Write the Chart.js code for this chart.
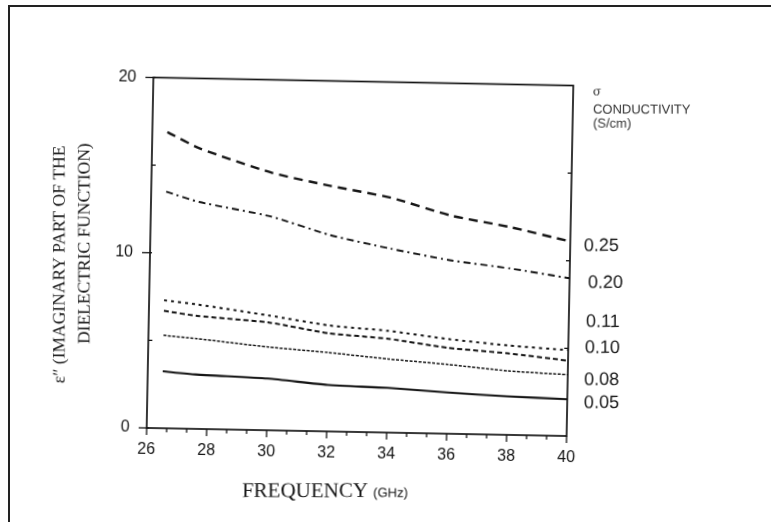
<!DOCTYPE html>
<html>
<head>
<meta charset="utf-8">
<script src="https://cdn.jsdelivr.net/npm/chart.js@4.4.1/dist/chart.umd.min.js"></script>
<style>
  html, body { margin: 0; padding: 0; background: #fff; }
  #wrap { position: relative; width: 771px; height: 522px; overflow: hidden; }
  #frame { position: absolute; left: 8px; top: 5px; right: -10px; bottom: -10px;
           border-left: 2px solid #222; border-top: 2px solid #222; }
  /* the scanned plot is tilted a little clockwise */
  #chart { position: absolute; left: 0; top: 0; transform: rotate(1.1deg);
           transform-origin: 359.5px 256.5px; }
</style>
</head>
<body>
<div id="wrap">
  <div id="frame"></div>
  <canvas id="chart" width="771" height="522"></canvas>
</div>
<script>
// frequency (GHz) where the curves were read
const freq = [26.5, 27.6, 30, 32, 34, 36, 38, 40];
const conductivity = ['0.25', '0.20', '0.11', '0.10', '0.08', '0.05'];
const eps025 = [16.9, 16.0, 14.7, 14.0, 13.4, 12.45, 11.85, 11.1];
const eps020 = [13.5, 12.95, 12.2, 11.2, 10.5, 9.9, 9.5, 9.0];
const eps011 = [7.3, 7.1, 6.55, 6.05, 5.8, 5.4, 5.1, 4.9];
const eps010 = [6.7, 6.45, 6.15, 5.6, 5.35, 4.9, 4.65, 4.3];
const eps008 = [5.3, 5.15, 4.75, 4.5, 4.2, 3.95, 3.65, 3.5];
const eps005 = [3.25, 3.1, 2.95, 2.65, 2.55, 2.35, 2.2, 2.1];
const xTickValues = [26, 28, 30, 32, 34, 36, 38, 40];
const yTickValues = [0, 10, 20];

const INK = '#151515';
const TILT = 1.1 * Math.PI / 180;
const PIVOT = [359.5, 256.5];

const series = [eps025, eps020, eps011, eps010, eps008, eps005];
const dashes = [[9, 6], [7, 4, 2, 4], [3, 4], [5, 3], [3, 1.5], []];
const widths = [2.4, 1.9, 2, 2, 1.5, 2.1];

const datasets = series.map((vals, i) => ({
  label: conductivity[i],
  data: vals.map((v, j) => ({ x: freq[j], y: v })),
  borderColor: INK,
  borderWidth: widths[i],
  borderDash: dashes[i],
  pointRadius: 0,
  tension: 0.2,
  fill: false
}));

// label placement in page pixels (untilted)
const condLabelPos = [[584, 246], [588, 283], [586, 322], [585, 348], [584, 380], [584, 403]];

const paperDecor = {
  id: 'paperDecor',
  afterDraw(chart) {
    const { ctx, chartArea: a, scales: { x, y } } = chart;
    ctx.save();
    ctx.strokeStyle = INK;
    ctx.lineWidth = 1.7;
    ctx.strokeRect(a.left, a.top, a.width, a.height);

    // x ticks: major every 2 GHz, two minor between
    ctx.lineWidth = 1.3;
    for (let i = 0; i <= 21; i++) {
      const px = x.getPixelForValue(26 + i * 2 / 3);
      const len = i % 3 === 0 ? 7 : 4;
      ctx.beginPath();
      ctx.moveTo(px, a.bottom);
      ctx.lineTo(px, a.bottom + len);
      ctx.stroke();
    }
    // y ticks
    [0, 5, 10, 15, 20].forEach(v => {
      const py = y.getPixelForValue(v);
      ctx.beginPath();
      if (v % 10 === 0) { ctx.moveTo(a.left - 8, py); ctx.lineTo(a.left + 2, py); }
      else { ctx.moveTo(a.left, py); ctx.lineTo(a.left + 4, py); }
      ctx.stroke();
      if (v > 0 && v < 20) {
        ctx.beginPath();
        ctx.moveTo(a.right - 4, py); ctx.lineTo(a.right, py);
        ctx.stroke();
      }
    });

    // texts in page coordinates: undo the tilt
    ctx.translate(PIVOT[0], PIVOT[1]);
    ctx.rotate(-TILT);
    ctx.translate(-PIVOT[0], -PIVOT[1]);
    ctx.fillStyle = INK;

    ctx.font = '18px "Liberation Sans", Arial, sans-serif';
    ctx.textBaseline = 'middle';
    ctx.textAlign = 'left';
    conductivity.forEach((c, i) => ctx.fillText(c, condLabelPos[i][0], condLabelPos[i][1]));

    ctx.fillStyle = '#333';
    ctx.font = '12px "DejaVu Serif", serif';
    ctx.fillText('σ', 593, 92);
    ctx.font = '13px "Liberation Sans", Arial, sans-serif';
    ctx.fillText('CONDUCTIVITY', 593, 110);
    ctx.fillText('(S/cm)', 593, 124);

    ctx.fillStyle = INK;
    ctx.textBaseline = 'alphabetic';
    ctx.font = '21px "Liberation Serif", "Times New Roman", serif';
    ctx.fillText('FREQUENCY', 242, 497);
    const w = ctx.measureText('FREQUENCY ').width;
    ctx.font = '13px "Liberation Sans", Arial, sans-serif';
    ctx.fillText('(GHz)', 242 + w, 497);

    ctx.textAlign = 'center';
    ctx.textBaseline = 'middle';
    ctx.font = '17.5px "Liberation Serif", "Times New Roman", serif';
    ctx.save();
    ctx.translate(60, 264.5);
    ctx.rotate(-Math.PI / 2);
    ctx.fillText('ε\u2033 (IMAGINARY PART OF THE', 0, 0);
    ctx.restore();
    ctx.save();
    ctx.translate(85, 243.5);
    ctx.rotate(-Math.PI / 2);
    ctx.fillText('DIELECTRIC FUNCTION)', 0, 0);
    ctx.restore();

    ctx.restore();
  }
};

new Chart(document.getElementById('chart'), {
  type: 'line',
  data: { datasets },
  options: {
    responsive: false,
    animation: false,
    layout: { padding: { top: 81.5, right: 201, left: 0, bottom: 0 } },
    plugins: { legend: { display: false }, tooltip: { enabled: false } },
    scales: {
      x: {
        type: 'linear',
        min: 26,
        max: 40,
        afterBuildTicks: s => { s.ticks = xTickValues.map(v => ({ value: v })); },
        afterFit: s => { s.height = 90; },
        ticks: { color: INK, padding: 12, font: { family: '"Liberation Sans", Arial, sans-serif', size: 16 } },
        grid: { display: false, drawTicks: false },
        border: { display: false }
      },
      y: {
        min: 0,
        max: 20,
        afterBuildTicks: s => { s.ticks = yTickValues.map(v => ({ value: v })); },
        afterFit: s => { s.width = 150; },
        ticks: { color: INK, padding: 17, font: { family: '"Liberation Sans", Arial, sans-serif', size: 16 } },
        grid: { display: false, drawTicks: false },
        border: { display: false }
      }
    }
  },
  plugins: [paperDecor]
});
</script>
</body>
</html>
